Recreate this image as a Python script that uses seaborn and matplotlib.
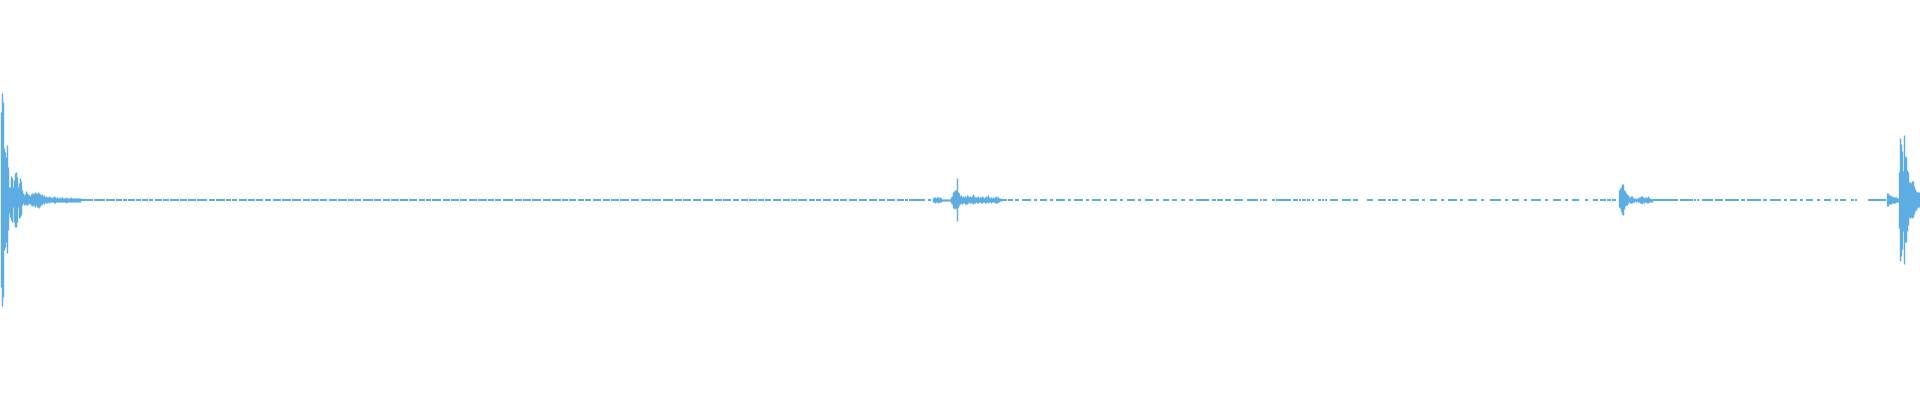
import numpy as np
import pandas as pd
import seaborn as sns
import matplotlib.pyplot as plt

# waveform envelope, one entry per time column: peak above / below the zero line
burst1_start = 0
burst1_top = [88, 107, 98, 52, 48, 43, 55, 33, 13, 13, 24, 22, 13, 20, 27, 28, 23, 13, 17, 22,
              19, 10, 7, 5, 6, 9, 7, 6, 5, 4, 6, 7, 6, 7, 8, 7, 6, 8, 7, 6,
              5, 6, 4, 5, 3, 4, 3, 3, 4, 3, 3, 2, 3, 4, 3, 2, 3, 2, 2, 3,
              2, 3, 2, 2, 2, 3, 2, 2, 2, 2, 3, 2, 2, 2, 2, 2, 2, 2, 2, 2]
burst1_bot = [87, 106, 97, 50, 47, 42, 53, 30, 13, 17, 20, 22, 7, 22, 27, 27, 22, 7, 18, 17,
              15, 5, 3, 5, 4, 5, 5, 4, 3, 4, 5, 6, 5, 6, 7, 5, 7, 7, 8, 6,
              5, 4, 3, 4, 2, 3, 3, 2, 3, 2, 2, 2, 2, 3, 3, 2, 2, 2, 2, 2,
              2, 2, 2, 2, 2, 3, 2, 2, 2, 2, 2, 2, 2, 2, 2, 2, 2, 2, 2, 2]

burst2_start = 932
burst2_top = [2, 3, 3, 2, 3, 3, 2, 3, 2, 1, 1, 1, 1, 1, 1, 1, 1, 1, 3, 4,
              8, 9, 10, 10, 22, 8, 7, 4, 5, 3, 4, 3, 4, 3, 5, 4, 3, 4, 3, 4,
              6, 4, 3, 3, 3, 4, 2, 3, 3, 4, 3, 2, 3, 4, 3, 5, 3, 2, 3, 2,
              3, 2, 3, 4, 3, 3, 2, 2, 1]
burst2_bot = [2, 2, 3, 2, 2, 3, 2, 2, 2, 1, 1, 1, 1, 1, 1, 1, 1, 1, 3, 4,
              8, 8, 9, 8, 21, 7, 5, 4, 3, 4, 3, 3, 4, 4, 4, 3, 2, 3, 3, 3,
              4, 3, 3, 2, 3, 3, 2, 2, 3, 3, 2, 2, 3, 3, 2, 3, 2, 2, 3, 2,
              2, 2, 3, 3, 3, 2, 2, 1, 1]

burst3_start = 1618
burst3_top = [10, 12, 13, 16, 16, 10, 9, 7, 6, 5, 3, 3, 4, 4, 2, 2, 2, 1, 2, 2,
              3, 3, 4, 4, 3, 2, 3, 2, 3, 4, 2, 2, 1, 1]
burst3_bot = [7, 8, 11, 14, 15, 9, 6, 5, 5, 3, 2, 3, 3, 3, 2, 2, 1, 2, 1, 2,
              2, 3, 3, 4, 2, 3, 2, 2, 3, 3, 2, 2, 2, 2]

burst4_start = 1886
burst4_top = [7, 7, 5, 5, 4, 4, 3, 3, 3, 3, 2, 2, 28, 62, 56, 49, 29, 65, 44, 43,
              30, 28, 18, 18, 17, 19, 19, 14, 11, 9, 8, 8, 8, 7]
burst4_bot = [6, 6, 4, 4, 4, 3, 3, 3, 3, 2, 2, 2, 28, 61, 56, 49, 31, 64, 42, 42,
              31, 25, 17, 18, 17, 18, 17, 14, 11, 10, 8, 7, 7, 6]

# stretches where the quiet signal still shows as a thin line (first, last column)
quiet_runs = [
    (80, 92), (94, 104), (106, 114), (116, 121), (123, 126), (128, 134), (136, 140),
    (142, 147), (149, 152), (155, 161), (163, 168), (170, 178), (180, 186), (188, 195),
    (197, 206), (209, 214), (216, 224), (226, 230), (232, 236), (239, 246), (248, 254),
    (256, 262), (265, 270), (273, 280), (282, 290), (292, 300), (303, 309), (311, 318),
    (320, 326), (329, 336), (338, 346), (348, 353), (355, 360), (363, 372), (374, 380),
    (383, 389), (391, 398), (400, 407), (409, 416), (419, 424), (426, 430), (432, 440),
    (443, 449), (451, 458), (460, 466), (469, 476), (478, 486), (488, 493), (495, 500),
    (503, 512), (515, 521), (523, 530), (532, 540), (543, 550), (552, 560), (562, 567),
    (569, 575), (578, 583), (585, 590), (593, 600), (603, 609), (611, 618), (620, 628),
    (631, 638), (641, 650), (652, 660), (663, 672), (675, 681), (683, 690), (693, 700),
    (703, 712), (715, 721), (723, 730), (733, 738), (741, 747), (749, 756), (758, 763),
    (765, 770), (773, 780), (783, 789), (791, 796), (798, 806), (809, 814), (816, 820),
    (823, 830), (833, 838), (840, 846), (849, 856), (859, 866), (869, 876), (879, 884),
    (887, 894), (897, 903), (905, 907), (909, 912), (913, 915), (916, 918), (919, 921),
    (922, 924), (928, 930),
    (1001, 1006), (1008, 1012), (1015, 1018), (1022, 1030), (1034, 1036), (1040, 1046),
    (1050, 1052), (1056, 1064), (1068, 1070), (1074, 1082), (1086, 1088), (1092, 1100),
    (1104, 1106), (1110, 1116), (1120, 1122), (1127, 1134), (1138, 1140), (1145, 1152),
    (1156, 1158), (1163, 1168), (1172, 1176), (1181, 1184), (1189, 1192), (1196, 1206),
    (1207, 1208), (1212, 1215), (1217, 1219), (1220, 1222), (1225, 1227), (1228, 1230),
    (1234, 1235), (1236, 1242), (1247, 1255), (1256, 1257), (1260, 1261), (1263, 1266),
    (1272, 1274), (1276, 1277), (1278, 1287), (1288, 1290), (1293, 1294), (1295, 1297),
    (1299, 1300), (1302, 1305), (1307, 1309), (1312, 1313), (1318, 1320), (1322, 1323),
    (1325, 1326), (1330, 1332), (1333, 1337), (1342, 1347), (1348, 1350), (1353, 1357),
    (1367, 1369), (1370, 1372), (1378, 1385), (1388, 1390), (1392, 1397), (1402, 1405),
    (1410, 1418), (1422, 1424), (1430, 1436), (1441, 1443), (1448, 1456), (1460, 1462),
    (1468, 1476), (1481, 1483), (1490, 1500), (1505, 1507), (1512, 1518), (1524, 1526),
    (1531, 1540), (1545, 1547), (1553, 1560), (1565, 1567), (1572, 1578), (1585, 1587),
    (1593, 1597), (1600, 1605), (1607, 1610), (1612, 1615),
    (1652, 1662), (1663, 1667), (1668, 1677), (1680, 1687), (1688, 1692), (1694, 1695),
    (1697, 1698), (1702, 1712), (1715, 1722), (1725, 1738), (1741, 1744), (1747, 1760),
    (1763, 1766), (1770, 1780), (1784, 1786), (1790, 1796), (1800, 1802), (1806, 1812),
    (1817, 1819), (1824, 1830), (1835, 1837), (1840, 1842), (1843, 1845), (1851, 1853),
    (1855, 1856), (1868, 1869), (1870, 1872), (1873, 1876), (1877, 1880), (1881, 1885),
]

wave_color = "#5dade2"

rows = []
uid = 0
for start, tops, bots in [(burst1_start, burst1_top, burst1_bot),
                          (burst2_start, burst2_top, burst2_bot),
                          (burst3_start, burst3_top, burst3_bot),
                          (burst4_start, burst4_top, burst4_bot)]:
    for i, (t, b) in enumerate(zip(tops, bots)):
        rows.append((start + i + 0.5, t, uid))
        rows.append((start + i + 0.5, -b, uid))
        uid += 1
peaks = pd.DataFrame(rows, columns=["time", "level", "seg"])

rows = []
for k, (a, b) in enumerate(quiet_runs):
    rows.append((a, 0, k))
    rows.append((b + 1, 0, k))
quiet = pd.DataFrame(rows, columns=["time", "level", "seg"])

sns.set_style("white")
fig = plt.figure(figsize=(19.2, 4), dpi=100)
ax = fig.add_axes([0, 0, 1, 1])

sns.lineplot(data=quiet, x="time", y="level", units="seg", estimator=None, sort=False,
             color=wave_color, linewidth=1.44, solid_capstyle="butt", ax=ax)
sns.lineplot(data=peaks, x="time", y="level", units="seg", estimator=None, sort=False,
             color=wave_color, linewidth=1.0, solid_capstyle="butt", ax=ax)

ax.set_xlim(0, 1920)
ax.set_ylim(-200, 200)
ax.axis("off")
fig.savefig("out.png", dpi=100, facecolor="white")
